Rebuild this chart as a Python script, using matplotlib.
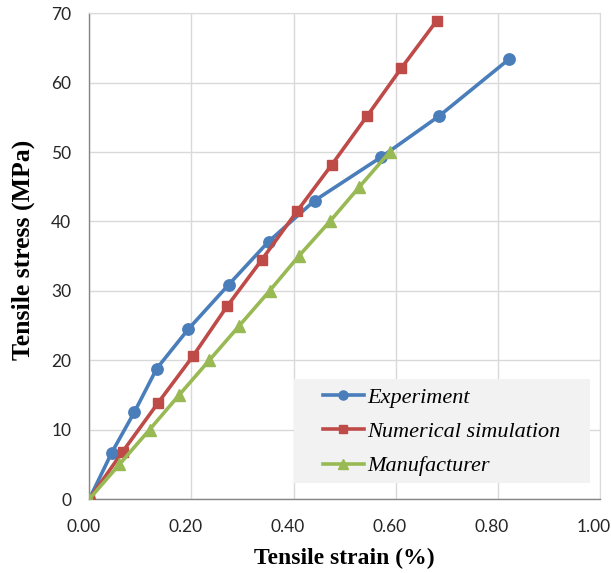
import matplotlib
matplotlib.use("Agg")
import matplotlib.pyplot as plt
from matplotlib.patches import Rectangle
from matplotlib.transforms import ScaledTranslation

exp_x = [0.0, 0.044, 0.088, 0.132, 0.194, 0.273, 0.351, 0.441, 0.572, 0.685, 0.822]
exp_y = [0.0, 6.7, 12.5, 18.8, 24.5, 30.9, 37.1, 43.0, 49.3, 55.2, 63.4]

num_x = [0.0, 0.065, 0.135, 0.203, 0.270, 0.338, 0.407, 0.475, 0.544, 0.611, 0.680]
num_y = [0.0, 6.8, 13.9, 20.6, 27.8, 34.5, 41.5, 48.2, 55.2, 62.1, 68.9]

man_x = [0.0, 0.059, 0.118, 0.176, 0.235, 0.294, 0.353, 0.410, 0.471, 0.529, 0.588]
man_y = [0.0, 5.0, 10.0, 15.0, 20.0, 25.0, 30.0, 35.0, 40.0, 45.0, 50.0]

x_ticks = [0.0, 0.2, 0.4, 0.6, 0.8, 1.0]
x_ticklabels = ["0.00", "0.20", "0.40", "0.60", "0.80", "1.00"]
y_ticks = [0, 10, 20, 30, 40, 50, 60, 70]

fig = plt.figure(figsize=(6.11, 5.73), dpi=100)
ax = fig.add_axes([0.1462, 0.1291, 0.982 - 0.1462, 0.9768 - 0.1291])

ax.plot(exp_x, exp_y, color="#4A7EBB", lw=2.6, marker="o", ms=8.2,
        label="Experiment", zorder=3)
ax.plot(num_x, num_y, color="#BE4B48", lw=2.6, marker="s", ms=7.8,
        label="Numerical simulation", zorder=4)
ax.plot(man_x, man_y, color="#98B954", lw=2.6, marker="^", ms=8.5,
        label="Manufacturer", zorder=5)

ax.set_xlim(0, 1.0)
ax.set_ylim(0, 70)
ax.set_xticks(x_ticks)
ax.set_xticklabels(x_ticklabels)
ax.set_yticks(y_ticks)
ax.grid(True, color="#D9D9D9", lw=1.0, zorder=0)
ax.set_axisbelow(True)
ax.tick_params(axis="x", length=0, pad=14.5, labelsize=12.5, labelcolor="#262626")
ax.tick_params(axis="y", length=0, pad=13, labelsize=12.5, labelcolor="#262626")
shift = ScaledTranslation(-6 / 100, 0, fig.dpi_scale_trans)
for lab in ax.get_xticklabels():
    lab.set_fontfamily("Lato")
    lab.set_transform(lab.get_transform() + shift)
for lab in ax.get_yticklabels():
    lab.set_fontfamily("Lato")

for s in ["top", "right"]:
    ax.spines[s].set_color("#D9D9D9")
for s in ["left", "bottom"]:
    ax.spines[s].set_color("#868686")
    ax.spines[s].set_linewidth(1.0)
for p in ax.spines.values():
    p.set_zorder(1)

ax.set_xlabel("Tensile strain (%)", fontfamily="Liberation Serif",
              fontweight="bold", fontsize=17, labelpad=9)
ax.set_ylabel("Tensile stress (MPa)", fontfamily="Liberation Serif",
              fontweight="bold", fontsize=18.5)
ax.yaxis.set_label_coords(-0.106, 0.512)

ax.add_patch(Rectangle((0.40, 0.033), 0.58, 0.214, transform=ax.transAxes,
                       facecolor="#F2F2F2", edgecolor="none", zorder=2))

leg = ax.legend(loc="center left", bbox_to_anchor=(0.457, 0.1385),
                frameon=False,
                prop={"family": "Liberation Serif", "style": "italic", "size": 16},
                markerscale=0.8, handlelength=1.85, handletextpad=0.17,
                labelspacing=0.62, borderpad=0, borderaxespad=0)
leg.set_zorder(6)

fig.savefig("out.png", dpi=100)
